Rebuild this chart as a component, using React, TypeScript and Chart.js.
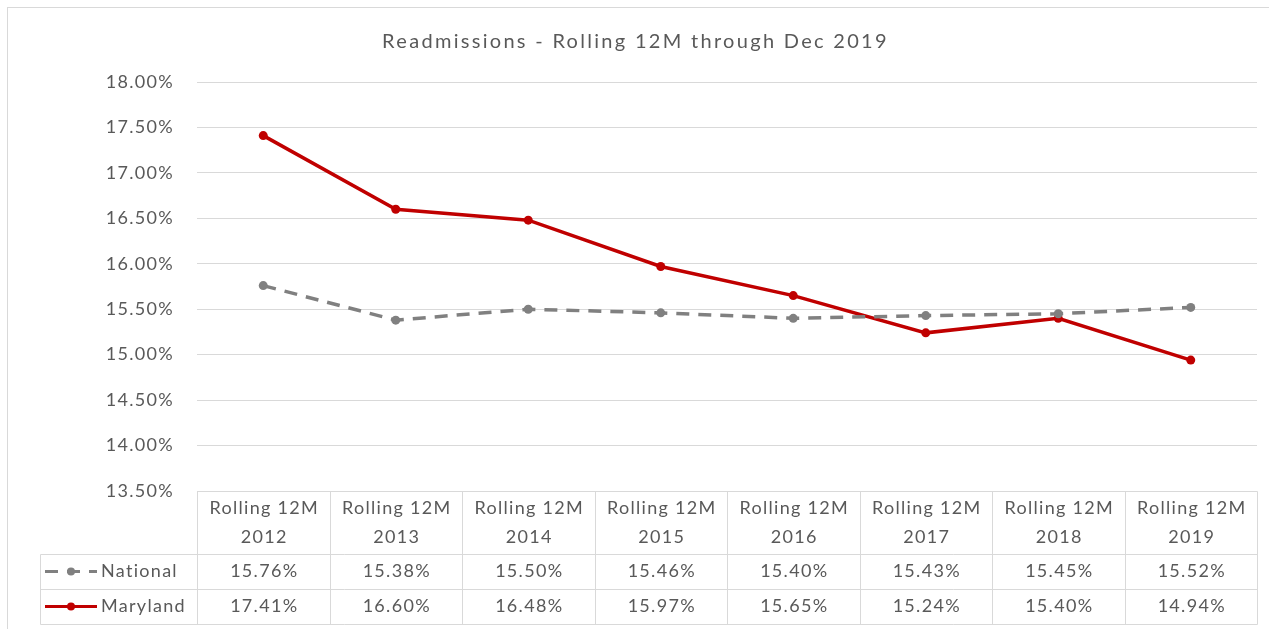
import React, { useEffect, useRef } from "react";
import { Chart, registerables } from "chart.js";

Chart.register(...registerables);

const title = "Readmissions - Rolling 12M through Dec 2019";
const categories = [
  ["Rolling 12M", "2012"],
  ["Rolling 12M", "2013"],
  ["Rolling 12M", "2014"],
  ["Rolling 12M", "2015"],
  ["Rolling 12M", "2016"],
  ["Rolling 12M", "2017"],
  ["Rolling 12M", "2018"],
  ["Rolling 12M", "2019"],
];
const nationalValues = [15.76, 15.38, 15.5, 15.46, 15.4, 15.43, 15.45, 15.52];
const marylandValues = [17.41, 16.6, 16.48, 15.97, 15.65, 15.24, 15.4, 14.94];
const seriesNames = ["National", "Maryland"];
const yMin = 13.5;
const yMax = 18;
const yStep = 0.5;

const FONT = "Lato, 'Open Sans', sans-serif";
const TEXT = "#595959";
const GRID = "#d9d9d9";
const NAT_COLOR = "#808080";
const MD_COLOR = "#c00000";
const SPACING = "1.3px";

const fmt = (v: number) => v.toFixed(2) + "%";

const tablePlugin = {
  id: "tablePlugin",
  beforeDraw(chart: any) {
    (chart.ctx as any).letterSpacing = SPACING;
  },
  afterDraw(chart: any) {
    const ctx = chart.ctx as CanvasRenderingContext2D;
    const area = chart.chartArea;
    const xs = chart.scales.x;
    const n = categories.length;
    const colW = area.width / n;
    const top = area.bottom;
    const headerH = 63;
    const rowH = 35;
    const legendLeft = 40;

    ctx.save();
    // outer border
    ctx.strokeStyle = GRID;
    ctx.lineWidth = 1;
    ctx.strokeRect(7.5, 7.5, chart.width, chart.height);

    // title
    ctx.fillStyle = TEXT;
    (ctx as any).letterSpacing = "2.3px";
    ctx.font = `20px ${FONT}`;
    ctx.textAlign = "center";
    ctx.textBaseline = "middle";
    ctx.fillText(title, chart.width / 2 + 1, 42);
    (ctx as any).letterSpacing = SPACING;

    // table lines
    ctx.strokeStyle = GRID;
    ctx.lineWidth = 1;
    const L = Math.round(area.left) + 0.5;
    const R = Math.round(area.right) + 0.5;
    const yTop = Math.round(top) + 0.5;
    const yH = Math.round(top + headerH) + 0.5;
    const yR1 = Math.round(top + headerH + rowH) + 0.5;
    const yR2 = Math.round(top + headerH + rowH * 2) + 0.5;
    ctx.beginPath();
    ctx.moveTo(L, yTop); ctx.lineTo(R, yTop);
    ctx.moveTo(legendLeft + 0.5, yH); ctx.lineTo(R, yH);
    ctx.moveTo(legendLeft + 0.5, yR1); ctx.lineTo(R, yR1);
    ctx.moveTo(legendLeft + 0.5, yR2); ctx.lineTo(R, yR2);
    ctx.moveTo(legendLeft + 0.5, yH); ctx.lineTo(legendLeft + 0.5, yR2);
    for (let i = 0; i <= n; i++) {
      const x = Math.round(area.left + colW * i) + 0.5;
      ctx.moveTo(x, yTop); ctx.lineTo(x, yR2);
    }
    ctx.stroke();

    // header text
    ctx.fillStyle = TEXT;
    ctx.font = `18px ${FONT}`;
    ctx.textAlign = "center";
    ctx.textBaseline = "middle";
    categories.forEach((lines, i) => {
      const cx = xs.getPixelForValue(i) + 1;
      ctx.fillText(lines[0], cx, top + 17);
      ctx.fillText(lines[1], cx, top + 46);
    });
    // values
    const rows = [nationalValues, marylandValues];
    rows.forEach((vals, r) => {
      const cy = top + headerH + rowH * r + rowH / 2;
      vals.forEach((v, i) => {
        ctx.fillText(fmt(v), xs.getPixelForValue(i) + 1, cy);
      });
    });

    // legend keys
    rows.forEach((_, r) => {
      const cy = top + headerH + rowH * r + rowH / 2;
      const ds = chart.data.datasets[r];
      ctx.save();
      ctx.strokeStyle = ds.borderColor;
      ctx.lineWidth = 3;
      ctx.setLineDash(ds.borderDash || []);
      ctx.beginPath();
      ctx.moveTo(45, cy);
      ctx.lineTo(97, cy);
      ctx.stroke();
      ctx.setLineDash([]);
      ctx.fillStyle = ds.borderColor;
      ctx.beginPath();
      ctx.arc(71, cy, 4, 0, Math.PI * 2);
      ctx.fill();
      ctx.restore();
      ctx.fillStyle = TEXT;
      ctx.textAlign = "left";
      ctx.fillText(seriesNames[r], 101, cy);
    });
    ctx.restore();
  },
};

export default function App() {
  const ref = useRef<HTMLCanvasElement | null>(null);
  useEffect(() => {
    if (!ref.current) return;
    const chart = new Chart(ref.current, {
      type: "line",
      data: {
        labels: categories.map((c) => c.join(" ")),
        datasets: [
          {
            label: seriesNames[0],
            data: nationalValues,
            borderColor: NAT_COLOR,
            backgroundColor: NAT_COLOR,
            borderWidth: 3.5,
            borderDash: [13, 9],
            pointRadius: 4.5,
            pointBackgroundColor: NAT_COLOR,
            pointBorderWidth: 0,
            tension: 0,
          },
          {
            label: seriesNames[1],
            data: marylandValues,
            borderColor: MD_COLOR,
            backgroundColor: MD_COLOR,
            borderWidth: 3.5,
            pointRadius: 4.5,
            pointBackgroundColor: MD_COLOR,
            pointBorderWidth: 0,
            tension: 0,
          },
        ],
      },
      options: {
        animation: false,
        responsive: false,
        maintainAspectRatio: false,
        layout: { padding: { top: 82, bottom: 138, left: 0, right: 12 } },
        plugins: {
          legend: { display: false },
          title: { display: false },
          tooltip: { enabled: false },
        },
        scales: {
          x: {
            type: "category",
            display: false,
            offset: true,
            grid: { display: false },
          },
          y: {
            min: yMin,
            max: yMax,
            border: { display: false },
            grid: { color: GRID, lineWidth: 1, drawTicks: false },
            ticks: {
              stepSize: yStep,
              padding: 23,
              color: TEXT,
              font: { family: FONT, size: 18 },
              callback: (v: any) => fmt(Number(v)),
            },
            afterFit: (scale: any) => {
              scale.width = 197;
            },
          },
        },
      },
      plugins: [tablePlugin],
    });
    return () => chart.destroy();
  }, []);
  return (
    <div style={{ position: "fixed", left: 0, top: 0, width: 1269, height: 629, background: "#fff" }}>
      <canvas ref={ref} width={1269} height={629} style={{ width: 1269, height: 629, display: "block" }} />
    </div>
  );
}
